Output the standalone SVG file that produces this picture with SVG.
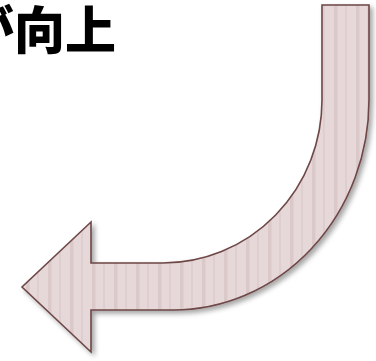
<svg xmlns="http://www.w3.org/2000/svg" width="376" height="361" viewBox="0 0 376 361">
<style>
.title{font-family:"Noto Sans CJK JP","Noto Sans CJK SC",sans-serif;font-weight:900;font-size:51px;fill:#000}
.arrow{fill:url(#stripes);stroke:#6e4646;stroke-width:1.6;stroke-linejoin:miter}
</style>
<defs>
<pattern id="stripes" patternUnits="userSpaceOnUse" x="0" y="0" width="22" height="10">
<rect width="22" height="10" fill="#e6d8d9"/>
<rect x="4" width="3.5" height="10" fill="#dbc9ca"/>
<rect x="15" width="2" height="10" fill="#dfcecf"/>
</pattern>
<filter id="shadow" x="-10%" y="-10%" width="130%" height="130%">
<feDropShadow dx="3" dy="3" stdDeviation="2.5" flood-color="#000" flood-opacity="0.35"/>
</filter>
</defs>
<g id="title">
<text class="title" x="-37" y="49">が向上</text>
</g>
<g id="arrow" filter="url(#shadow)">
<path class="arrow" d="M 322 5 L 369 5 L 369 100 A 196 210 0 0 1 173 310 L 91 310 L 91 352 L 22 287 L 91 222 L 91 263 L 163 263 A 159 163 0 0 0 322 100 Z"/>
</g>
</svg>
